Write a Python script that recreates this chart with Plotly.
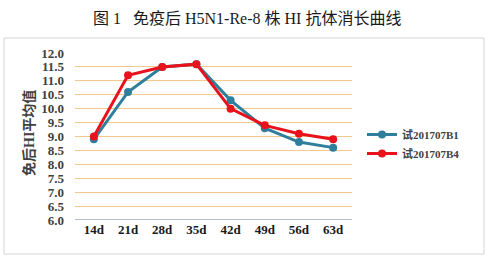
import plotly.graph_objects as go

categories = ["14d", "21d", "28d", "35d", "42d", "49d", "56d", "63d"]
series_b1 = [8.9, 10.6, 11.5, 11.6, 10.3, 9.3, 8.8, 8.6]
series_b4 = [9.0, 11.2, 11.5, 11.6, 10.0, 9.4, 9.1, 8.9]
names = ["试201707B1", "试201707B4"]
y_ticks = [6.0, 6.5, 7.0, 7.5, 8.0, 8.5, 9.0, 9.5, 10.0, 10.5, 11.0, 11.5, 12.0]

SERIF = "Liberation Serif, Times New Roman, Noto Sans CJK SC, serif"

fig = go.Figure()
fig.add_trace(go.Scatter(x=categories, y=series_b1, name=names[0], mode="lines+markers",
                         line=dict(color="#2F7F9C", width=3),
                         marker=dict(color="#2F7F9C", size=8)))
fig.add_trace(go.Scatter(x=categories, y=series_b4, name=names[1], mode="lines+markers",
                         line=dict(color="#E8121C", width=3),
                         marker=dict(color="#E8121C", size=8)))

L, R, T, B = 75, 141, 53, 42
W, H = 493, 262
pw = W - L - R
ph = H - T - B

def px(x):
    return (x - L) / pw

def py(y):
    return (H - B - y) / ph

fig.update_layout(
    width=W, height=H,
    margin=dict(l=L, r=R, t=T, b=B, pad=0),
    paper_bgcolor="white", plot_bgcolor="white",
    showlegend=True,
    legend=dict(x=px(362), y=py(120), xanchor="left", yanchor="top",
                font=dict(family=SERIF, size=11, color="#404040", weight="bold"),
                bgcolor="rgba(0,0,0,0)", tracegroupgap=0, itemwidth=30),
    xaxis=dict(type="category", showgrid=False, showline=False, ticks="",
               tickfont=dict(family=SERIF, size=13, color="#1a1a1a", weight="bold"),
               fixedrange=True),
    yaxis=dict(range=[6.0, 12.0], tickvals=y_ticks,
               ticktext=[f"{v:.1f}" for v in y_ticks],
               showgrid=True, gridcolor="#F2C98A", gridwidth=1,
               zeroline=False, showline=False, ticks="",
               tickfont=dict(family=SERIF, size=13, color="#404040", weight="bold"),
               ticklabelstandoff=10),
    shapes=[
        dict(type="rect", xref="paper", yref="paper",
             x0=px(4), x1=px(484), y0=py(254), y1=py(38),
             line=dict(color="#D4D4D4", width=1), layer="below"),
        dict(type="line", xref="paper", yref="y", x0=0, x1=1, y0=6.0, y1=6.0,
             line=dict(color="#6B8399", width=1), layer="below"),
    ],
    annotations=[
        dict(text="图 1   免疫后 H5N1-Re-8 株 HI 抗体消长曲线", xref="paper", yref="paper",
             x=px(247), y=py(18), xanchor="center", yanchor="middle", showarrow=False,
             font=dict(family=SERIF, size=16, color="#1a1a1a")),
        dict(text="<b>免后HI平均值</b>", xref="paper", yref="paper",
             x=px(29), y=py(133), xanchor="center", yanchor="middle", showarrow=False,
             textangle=-90, font=dict(family=SERIF, size=14, color="#404040")),
    ],
)

fig.write_html("out.html")
